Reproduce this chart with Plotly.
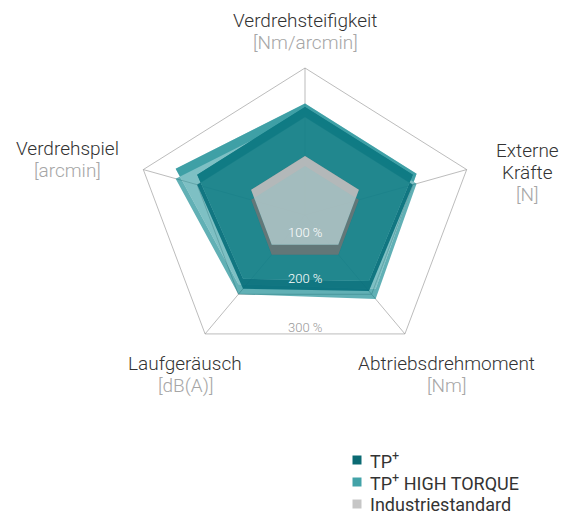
import math
import plotly.graph_objects as go

# ---------------- data ----------------
axis_names = [["Verdrehsteifigkeit"], ["Externe", "Kräfte"], ["Abtriebsdrehmoment"], ["Laufgeräusch"], ["Verdrehspiel"]]
axis_units = ["[Nm/arcmin]", "[N]", "[Nm]", "[dB(A)]", "[arcmin]"]
series_names = ["TP<sup>+</sup>", "TP<sup>+</sup> HIGH TORQUE", "Industriestandard"]
tp_plus = [200, 200, 192, 186, 200]
tp_plus_ht = [207, 207, 212, 200, 240]
industry = [100, 100, 100, 100, 100]
grid_levels = [100, 200, 300]
grid_labels = ["100 %", "200 %", "300 %"]

# ---------------- geometry / style ----------------
W, H = 579, 514
CX, CY = 305, 215               # pixel centre of the chart base plane
SX, SY = 170 / 300, 147 / 300   # px per percent (tilted plane)
RAISE = 10 / SY                 # extrusion height of the prisms (data units)
FONT = "Helvetica Neue, Roboto, Liberation Sans, Arial"
LINE = 22                       # label line spacing (px)


def px2x(px):
    return (px - CX) / SX


def py2y(py):
    return (CY - py) / SY


def pts(values, dy=0.0):
    xs, ys = [], []
    for k, r in enumerate(values):
        t = math.radians(72 * k)
        xs.append(r * math.sin(t))
        ys.append(r * math.cos(t) + dy)
    return xs, ys


fig = go.Figure()

# grid pentagons and spokes
gx, gy = [], []
for lvl in grid_levels:
    xs, ys = pts([lvl] * 5)
    gx += xs + [xs[0], None]
    gy += ys + [ys[0], None]
ox, oy = pts([grid_levels[-1]] * 5)
for x, y in zip(ox, oy):
    gx += [0, x, None]
    gy += [0, y, None]
fig.add_trace(go.Scatter(x=gx, y=gy, mode="lines", line=dict(color="rgba(150,150,150,0.8)", width=0.8),
                         hoverinfo="skip", showlegend=False))


def prism(values, face, wall, name):
    bx, by = pts(values)
    tx, ty = pts(values, RAISE)
    wx, wy = [], []
    for i in range(5):
        j = (i + 1) % 5
        wx += [bx[i], bx[j], tx[j], tx[i], bx[i], None]
        wy += [by[i], by[j], ty[j], ty[i], by[i], None]
    fig.add_trace(go.Scatter(x=wx, y=wy, mode="lines", fill="toself", fillcolor=wall,
                             line=dict(width=0), hoverinfo="skip", showlegend=False))
    fig.add_trace(go.Scatter(x=tx + [tx[0]], y=ty + [ty[0]], mode="lines", fill="toself", fillcolor=face,
                             line=dict(width=0), name=name, showlegend=False))


prism(tp_plus_ht, "rgba(40,150,157,0.6)", "rgba(0,128,135,0.62)", series_names[1])
prism(tp_plus, "rgba(17,125,133,0.85)", "rgba(5,110,122,0.9)", series_names[0])
prism(industry, "rgba(205,205,205,0.76)", "rgba(115,115,115,0.8)", series_names[2])

annotations = []

# legend (drawn manually for tight row spacing)
legend_colors = ["#0b6a73", "#43a3a8", "#c6c6c6"]
legend_rows = [460, 482, 504]
fig.add_trace(go.Scatter(x=[px2x(357)] * 3, y=[py2y(r) for r in legend_rows], mode="markers",
                         marker=dict(symbol="square", size=9, color=legend_colors, line=dict(width=0)),
                         hoverinfo="skip", showlegend=False))
for name, row in zip(series_names, legend_rows):
    annotations.append(dict(x=px2x(368), y=py2y(row), xref="x", yref="y", showarrow=False, text=name,
                            font=dict(size=18, color="#333333", family=FONT),
                            xanchor="left", yanchor="middle"))

# axis labels (first line centre positions, px)
label_pos = [(305, 20), (527, 150), (446, 363), (185, 363), (67, 148)]
for lines, unit, (px, py) in zip(axis_names, axis_units, label_pos):
    for i, txt in enumerate(lines + [unit]):
        is_unit = i == len(lines)
        annotations.append(dict(x=px2x(px), y=py2y(py + i * LINE), xref="x", yref="y", showarrow=False,
                                text=txt,
                                font=dict(size=19, color="#a6a6a6" if is_unit else "#333333",
                                          family=FONT, weight=300),
                                xanchor="center", yanchor="middle"))

# percentage labels
pct_pos = [232, 278, 327]
pct_col = ["white", "white", "#999999"]
for lab, py, col in zip(grid_labels, pct_pos, pct_col):
    annotations.append(dict(x=0, y=py2y(py), xref="x", yref="y", showarrow=False, text=lab,
                            font=dict(size=13, color=col, family=FONT, weight=300),
                            xanchor="center", yanchor="middle"))

fig.update_layout(
    width=W, height=H,
    margin=dict(l=0, r=0, t=0, b=0),
    paper_bgcolor="white", plot_bgcolor="white",
    xaxis=dict(range=[px2x(0), px2x(W)], visible=False, fixedrange=True),
    yaxis=dict(range=[py2y(H), py2y(0)], visible=False, fixedrange=True),
    annotations=annotations,
    showlegend=False,
)

fig.write_html("out.html", config={"displayModeBar": False},
               post_script="document.body.style.margin='0';")
